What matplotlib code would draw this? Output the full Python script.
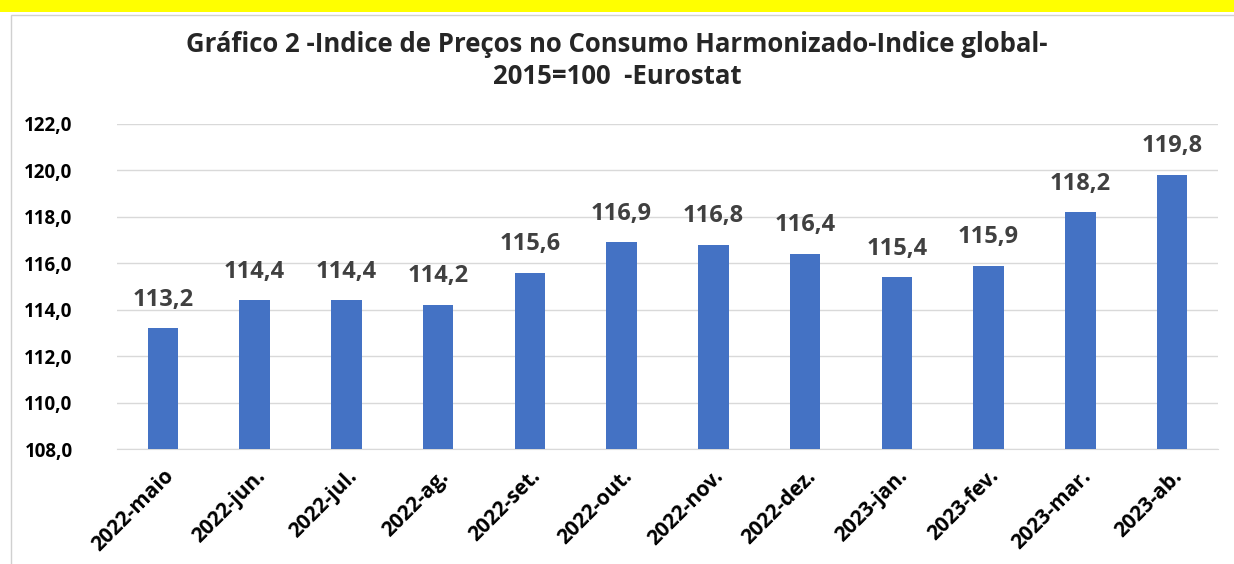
import matplotlib.pyplot as plt
from matplotlib.patches import Rectangle

# data
meses = ['2022-maio', '2022-jun.', '2022-jul.', '2022-ag.', '2022-set.', '2022-out.',
         '2022-nov.', '2022-dez.', '2023-jan.', '2023-fev.', '2023-mar.', '2023-ab.']
ipch = [113.2, 114.4, 114.4, 114.2, 115.6, 116.9, 116.8, 116.4, 115.4, 115.9, 118.2, 119.8]
yticks = [108, 110, 112, 114, 116, 118, 120, 122]

plt.rcParams['font.family'] = ['Open Sans', 'DejaVu Sans']

fig = plt.figure(figsize=(12.34, 5.64), dpi=100)

# yellow strip at the top and the chart frame
fig.patches.append(Rectangle((0, 1 - 12 / 564), 1, 12 / 564, transform=fig.transFigure,
                             facecolor='#ffff00', edgecolor='none', zorder=-2))
fig.patches.append(Rectangle((11 / 1234, -0.01), 1.0, 1 - 15 / 564 + 0.01, transform=fig.transFigure,
                             facecolor='white', edgecolor='#d0d0d0', lw=1, zorder=-2))

ax = fig.add_axes([117 / 1234, 1 - 449 / 564, (1218 - 117) / 1234, (449 - 124) / 564])
ax.patch.set_alpha(0)
x = range(len(meses))
bars = ax.bar(x, ipch, width=0.33, color='#4472C4', zorder=3)

for xi, v in zip(x, ipch):
    ax.annotate(f'{v:.1f}'.replace('.', ','), (xi, v), xytext=(0, 12), textcoords='offset points',
                ha='center', va='bottom', fontsize=17, fontweight='bold', color='#404040')

ax.set_ylim(108, 122)
ax.set_xlim(-0.5, len(meses) - 0.5)
ax.set_yticks(yticks)
ax.set_yticklabels([f'{t:.1f}'.replace('.', ',') for t in yticks], fontsize=13.5, fontweight='bold')
ax.set_xticks(list(x))
ax.set_xticklabels(meses, rotation=45, ha='right', rotation_mode='anchor', fontsize=15, fontweight='bold')
ax.tick_params(axis='both', length=0)
ax.tick_params(axis='y', pad=32)
ax.tick_params(axis='x', pad=12)
ax.yaxis.grid(True, color='#d9d9d9', lw=1, zorder=0)
ax.set_axisbelow(True)
for s in ['top', 'right', 'left']:
    ax.spines[s].set_visible(False)
ax.spines['bottom'].set_color('#d9d9d9')

fig.text(617 / 1234, 1 - 45 / 564, 'Gráfico 2 -Indice de Preços no Consumo Harmonizado-Indice global-',
         ha='center', va='center', fontsize=18.5, fontweight='bold', color='#262626')
fig.text(617 / 1234, 1 - 76 / 564, '2015=100  -Eurostat',
         ha='center', va='center', fontsize=18.5, fontweight='bold', color='#262626')

fig.savefig('out.png', dpi=100)
